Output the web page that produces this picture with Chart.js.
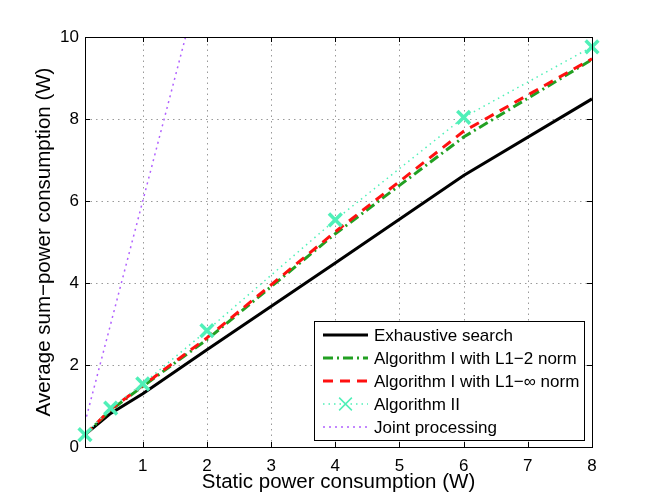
<!DOCTYPE html>
<html>
<head>
<meta charset="utf-8">
<script src="https://cdn.jsdelivr.net/npm/chart.js@4.4.1/dist/chart.umd.min.js"></script>
<style>
  html, body { margin: 0; padding: 0; background: #fff; }
  canvas { display: block; }
</style>
</head>
<body>
<canvas id="grafico" width="654" height="504"></canvas>
<script>
// static power (W) at which every curve was sampled
const staticPower = [0.1, 0.5, 1, 2, 4, 6, 8];

// average sum-power (W)
const exhaustive = [0.3, 0.82, 1.3, 2.37, 4.49, 6.62, 8.49];
const algL12 = [0.3, 0.9, 1.48, 2.62, 5.2, 7.56, 9.45];
const algL1Inf = [0.3, 0.92, 1.5, 2.66, 5.25, 7.7, 9.47];
const algII = [0.3, 0.95, 1.54, 2.84, 5.54, 8.04, 9.76];
const joint = [0.6, 3.0, 6.0, 12, 24, 36, 48];

const labels = [
  "Exhaustive search",
  "Algorithm I with L1\u22122 norm",
  "Algorithm I with L1\u2212\u221e norm",
  "Algorithm II",
  "Joint processing"
];

const xTicks = [1, 2, 3, 4, 5, 6, 7, 8];
const yTicks = [0, 2, 4, 6, 8, 10];

const FONT = "'Liberation Sans', Helvetica, Arial, sans-serif";

const pontos = ys => ys.map((y, i) => ({ x: staticPower[i], y }));

// dotted grid under the data
const dottedGrid = {
  id: "dottedGrid",
  beforeDatasetsDraw(chart) {
    const { ctx, chartArea: a, scales } = chart;
    ctx.save();
    ctx.strokeStyle = "#9a9a9a";
    ctx.lineWidth = 1;
    ctx.setLineDash([1.5, 4]);
    ctx.beginPath();
    xTicks.forEach(v => {
      const px = Math.round(scales.x.getPixelForValue(v)) + 0.5;
      ctx.moveTo(px, a.bottom); ctx.lineTo(px, a.top);
    });
    yTicks.forEach(v => {
      const py = Math.round(scales.y.getPixelForValue(v)) + 0.5;
      ctx.moveTo(a.left, py); ctx.lineTo(a.right, py);
    });
    ctx.stroke();
    ctx.restore();
  }
};

// box with inward tick marks (matlab style)
const frame = {
  id: "frame",
  afterDatasetsDraw(chart) {
    const { ctx, chartArea: a, scales } = chart;
    ctx.save();
    ctx.strokeStyle = "#000";
    ctx.lineWidth = 1;
    ctx.setLineDash([]);
    ctx.strokeRect(Math.round(a.left) + 0.5, Math.round(a.top) + 0.5,
      Math.round(a.right - a.left), Math.round(a.bottom - a.top));
    ctx.beginPath();
    xTicks.forEach(v => {
      const px = Math.round(scales.x.getPixelForValue(v)) + 0.5;
      ctx.moveTo(px, a.bottom); ctx.lineTo(px, a.bottom - 5);
      ctx.moveTo(px, a.top); ctx.lineTo(px, a.top + 5);
    });
    yTicks.forEach(v => {
      const py = Math.round(scales.y.getPixelForValue(v)) + 0.5;
      ctx.moveTo(a.left, py); ctx.lineTo(a.left + 5, py);
      ctx.moveTo(a.right, py); ctx.lineTo(a.right - 5, py);
    });
    ctx.stroke();
    ctx.restore();
  }
};

// legend inside the axes, lower right
const boxLegend = {
  id: "boxLegend",
  afterDraw(chart) {
    const { ctx, chartArea: a } = chart;
    const w = 270, h = 119, rowH = 23;
    const left = a.right - 8 - w, top = a.bottom - 7 - h;
    ctx.save();
    ctx.fillStyle = "#fff";
    ctx.fillRect(left, top, w, h);
    ctx.strokeStyle = "#000";
    ctx.lineWidth = 1;
    ctx.setLineDash([]);
    ctx.strokeRect(Math.round(left) + 0.5, Math.round(top) + 0.5, w, h);

    ctx.font = "17px " + FONT;
    ctx.textBaseline = "middle";
    chart.data.datasets.forEach((ds, i) => {
      const y = top + 14 + i * rowH;
      ctx.strokeStyle = ds.borderColor;
      ctx.lineWidth = ds.borderWidth;
      ctx.lineCap = "butt";
      ctx.setLineDash(ds.borderDash || []);
      ctx.beginPath();
      ctx.moveTo(left + 9, y);
      ctx.lineTo(left + 54, y);
      ctx.stroke();
      if (ds.pointRadius > 0) {
        ctx.setLineDash([]);
        ctx.strokeStyle = ds.pointBorderColor;
        Chart.helpers.drawPoint(ctx, {
          pointStyle: ds.pointStyle, radius: ds.pointRadius,
          borderWidth: ds.pointBorderWidth, rotation: 0
        }, left + 31.5, y);
      }
      ctx.fillStyle = "#000";
      ctx.fillText(ds.label, left + 60, y + 1);
    });
    ctx.restore();
  }
};

new Chart(document.getElementById("grafico"), {
  type: "line",
  data: {
    datasets: [
      {
        label: labels[0], data: pontos(exhaustive),
        borderColor: "#000", borderWidth: 3, pointRadius: 0, order: 5
      },
      {
        label: labels[1], data: pontos(algL12),
        borderColor: "#22a022", borderWidth: 3, borderDash: [10, 4, 2, 4],
        pointRadius: 0, order: 4
      },
      {
        label: labels[2], data: pontos(algL1Inf),
        borderColor: "#ff1010", borderWidth: 3, borderDash: [10, 7],
        pointRadius: 0, order: 3
      },
      {
        label: labels[3], data: pontos(algII),
        borderColor: "#50f0b8", borderWidth: 1.5, borderDash: [1.5, 4],
        pointStyle: "crossRot", pointRadius: 9, pointBorderWidth: 3.5,
        pointBorderColor: "#50f0b8", pointHoverRadius: 9,
        clip: false, order: 2
      },
      {
        label: labels[4], data: pontos(joint),
        borderColor: "#b060ff", borderWidth: 1.5, borderDash: [2, 4],
        pointRadius: 0, order: 1
      }
    ]
  },
  options: {
    responsive: false,
    animation: false,
    events: [],
    layout: { padding: { top: 37, right: 62, left: 0, bottom: 0 } },
    plugins: { legend: { display: false }, tooltip: { enabled: false } },
    scales: {
      x: {
        type: "linear", min: 0.1, max: 8,
        afterBuildTicks: s => { s.ticks = xTicks.map(v => ({ value: v })); },
        afterFit: s => { s.height = 57; },
        grid: { display: false, drawTicks: false },
        border: { display: false },
        ticks: { color: "#000", padding: 9, font: { family: FONT, size: 17 } },
        title: {
          display: true, text: "Static power consumption (W)", color: "#000",
          padding: { top: 0, bottom: 9 }, font: { family: FONT, size: 20.5 }
        }
      },
      y: {
        type: "linear", min: 0, max: 10,
        afterBuildTicks: s => { s.ticks = yTicks.map(v => ({ value: v })); },
        afterFit: s => { s.width = 85; },
        grid: { display: false, drawTicks: false },
        border: { display: false },
        ticks: { color: "#000", padding: 6, font: { family: FONT, size: 17 } },
        title: {
          display: true, text: "Average sum\u2212power consumption (W)", color: "#000",
          padding: { top: 32, bottom: 0 }, font: { family: FONT, size: 20.5 }
        }
      }
    }
  },
  plugins: [dottedGrid, frame, boxLegend]
});
</script>
</body>
</html>
